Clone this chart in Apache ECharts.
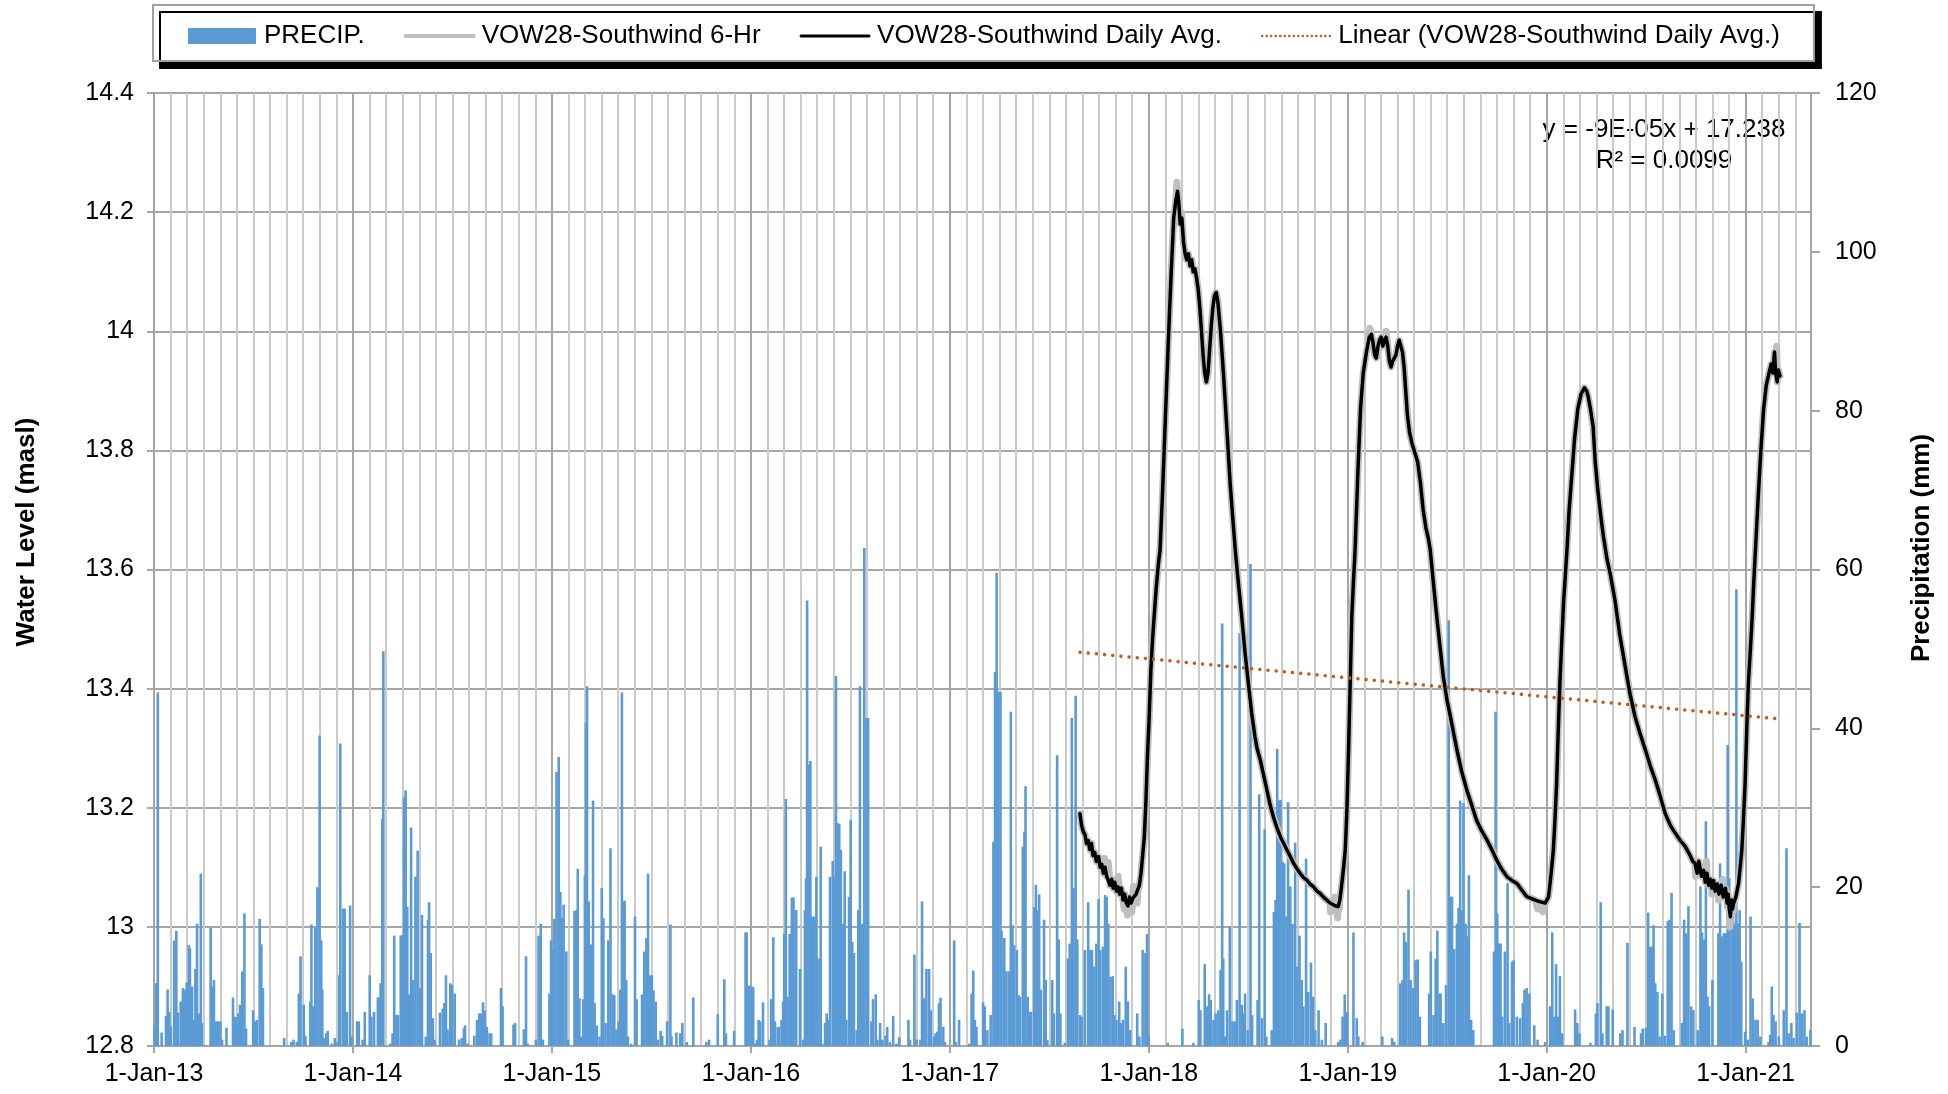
<!DOCTYPE html>
<html>
<head>
<meta charset="utf-8">
<title>VOW28-Southwind Water Level and Precipitation</title>
<script src="https://cdn.jsdelivr.net/npm/echarts@6/dist/echarts.min.js"></script>
<style>
  html, body { margin: 0; padding: 0; background: #ffffff; }
  #chart { width: 1948px; height: 1094px; }
</style>
</head>
<body>
<div id="chart"></div>
<script>
// ---------------------------------------------------------------------------
// Data. Daily precipitation (mm) per year as [day of year, mm].
// ---------------------------------------------------------------------------
const precip2013 = [[2,2.6],[5,7.9],[8,44.5],[15,1.7],[23,3.8],[26,7.1],[29,4.3],[32,2.5],[38,13.3],[42,14.5],[45,4.2],[50,5.6],[54,7.3],[58,7.1],[61,8.0],[65,12.7],[67,12.3],[71,7.5],[74,3.3],[77,9.7],[80,15.4],[83,4.1],[87,21.7],[89,2.9],[105,14.9],[108,7.5],[111,8.3],[115,3.1],[119,3.1],[123,3.1],[126,0.8],[134,2.3],[146,6.1],[149,3.7],[152,3.6],[156,4.1],[159,5.2],[163,9.4],[167,16.7],[170,2.2],[183,4.5],[186,3.1],[190,3.3],[195,16.0],[198,12.8],[201,7.3],[240,1.0],[253,0.5],[257,0.8],[263,0.5],[267,6.6],[270,11.3],[276,5.2],[279,1.3],[288,5.6],[290,15.3],[293,5.0],[297,14.9],[301,20.0],[305,39.1],[308,13.3],[310,7.1],[313,1.0],[317,1.6],[320,1.9],[327,0.3],[333,1.0],[338,0.5],[341,8.9],[343,38.1],[348,17.3],[351,17.3],[355,4.3],[361,17.7],[364,1.2]];
const precip2014 = [[9,3.1],[12,3.1],[19,0.8],[23,4.3],[32,8.9],[35,3.7],[40,4.3],[47,6.1],[49,6.1],[52,7.9],[55,28.6],[57,49.7],[70,0.3],[74,1.6],[77,13.9],[81,3.9],[84,3.9],[89,13.9],[92,14.0],[95,31.3],[98,32.2],[101,17.5],[104,6.5],[108,27.5],[112,8.3],[116,21.3],[120,24.6],[124,7.3],[128,16.5],[135,1.2],[139,15.9],[141,18.1],[144,11.7],[148,3.5],[151,0.8],[161,4.2],[166,4.7],[169,5.4],[172,8.9],[175,2.1],[180,7.9],[183,7.7],[188,6.6],[196,0.8],[201,1.0],[205,2.2],[207,2.6],[212,0.3],[224,1.3],[229,3.3],[233,4.1],[236,4.1],[240,5.5],[243,4.5],[247,2.4],[252,1.6],[255,1.6],[273,7.3],[276,5.0],[296,2.7],[299,2.9],[315,2.1],[319,11.3],[322,0.3],[337,0.8],[342,13.9],[346,15.4],[350,0.8],[362,6.6],[365,13.3]];
const precip2015 = [[3,12.1],[6,16.0],[10,34.5],[14,36.4],[17,19.4],[20,16.1],[23,17.8],[28,11.9],[31,0.8],[43,17.0],[46,17.1],[49,22.3],[52,6.0],[55,1.2],[59,5.9],[62,21.5],[64,40.7],[66,45.3],[69,18.2],[73,12.8],[77,30.9],[80,5.4],[84,2.6],[89,1.2],[93,19.9],[96,16.1],[100,2.9],[105,13.3],[109,24.9],[113,6.5],[116,6.4],[120,2.1],[124,3.1],[127,7.1],[130,44.5],[133,18.2],[135,18.3],[138,8.3],[141,1.2],[147,0.3],[154,16.3],[157,5.9],[167,6.5],[171,11.9],[175,13.6],[178,21.7],[182,8.9],[185,8.9],[188,7.0],[192,5.6],[196,0.8],[201,1.9],[204,1.3],[213,3.1],[219,15.3],[221,1.2],[230,1.7],[237,1.6],[241,2.9],[249,0.5],[261,6.1],[285,0.5],[290,0.8],[306,4.0],[318,8.4],[321,1.6],[336,1.9],[357,14.3],[359,14.3],[363,7.6]];
const precip2016 = [[3,7.5],[6,7.4],[9,0.3],[13,0.8],[16,3.3],[19,3.1],[24,5.5],[36,0.8],[39,5.9],[43,13.7],[46,3.1],[51,2.4],[53,2.4],[58,3.3],[61,5.6],[63,14.1],[66,31.1],[69,6.2],[73,14.1],[77,18.7],[80,18.7],[84,17.1],[85,17.1],[92,9.7],[98,0.8],[101,17.1],[103,21.1],[105,56.1],[108,35.4],[111,35.9],[114,16.3],[118,16.3],[122,21.3],[126,11.0],[130,25.1],[133,0.3],[138,2.9],[141,4.1],[144,3.3],[147,21.3],[152,23.3],[155,21.3],[158,46.6],[160,28.1],[164,28.0],[167,24.7],[171,15.4],[174,22.0],[177,3.3],[182,18.8],[185,28.5],[188,13.1],[191,11.7],[196,2.0],[199,17.1],[202,45.3],[206,15.4],[210,62.7],[214,41.3],[217,41.3],[223,3.1],[226,5.9],[231,6.5],[234,0.8],[239,2.9],[243,0.8],[249,1.3],[252,2.4],[257,0.5],[263,3.8],[269,0.3],[274,1.1],[291,3.3],[294,0.8],[302,11.5],[306,0.8],[313,0.8],[316,18.2],[320,6.0],[324,9.7],[329,9.7],[332,4.5],[338,1.2],[341,1.6],[344,1.8],[347,5.4],[350,6.1],[355,2.4],[358,0.5]];
const precip2017 = [[9,13.3],[12,0.5],[18,3.3],[37,0.3],[41,6.6],[44,9.5],[47,3.3],[50,2.4],[62,5.5],[65,5.0],[70,2.0],[76,3.9],[81,25.7],[84,47.1],[87,59.6],[90,44.6],[94,44.6],[96,14.5],[101,13.6],[105,9.4],[110,9.4],[113,42.1],[116,15.2],[119,12.7],[124,12.1],[127,6.4],[130,6.2],[135,25.1],[138,27.0],[140,32.7],[144,6.2],[147,4.3],[150,4.3],[156,17.5],[159,20.3],[162,17.1],[165,19.1],[168,7.1],[174,15.9],[177,8.3],[180,0.8],[189,8.3],[192,4.1],[198,36.6],[201,13.4],[204,4.1],[212,0.4],[218,11.0],[221,12.9],[225,41.3],[228,19.9],[232,44.1],[235,13.4],[240,3.9],[243,3.7],[249,12.1],[255,18.1],[259,12.1],[262,12.1],[265,10.0],[270,12.9],[274,18.5],[277,12.1],[282,12.5],[286,19.0],[289,18.8],[292,15.4],[296,8.7],[300,8.8],[303,3.9],[307,3.3],[312,5.6],[315,2.9],[319,3.3],[324,10.0],[328,5.6],[332,2.0],[345,4.1],[349,1.2],[355,12.1],[360,11.7],[363,14.1]];
const precip2018 = [[1,1.4],[36,0.4],[63,2.2],[83,0.4],[93,5.8],[96,4.5],[104,10.3],[108,5.0],[112,6.5],[115,5.8],[120,3.3],[124,4.1],[129,4.5],[133,9.6],[136,53.2],[138,11.0],[141,1.2],[145,4.5],[150,15.1],[155,3.1],[159,3.1],[163,5.8],[168,52.0],[172,5.2],[176,4.1],[178,6.6],[183,2.0],[188,60.7],[191,3.9],[201,5.8],[204,31.7],[209,3.5],[214,27.3],[217,1.2],[227,2.0],[231,16.9],[234,18.4],[237,37.4],[240,30.9],[243,31.0],[247,23.2],[250,23.0],[254,16.3],[257,30.7],[261,20.1],[265,15.4],[270,25.6],[274,10.0],[278,13.9],[282,8.3],[285,5.0],[290,23.6],[294,6.8],[299,10.5],[303,6.2],[307,2.0],[313,4.5],[319,0.8],[326,2.9],[349,0.5],[353,0.8],[357,3.7],[361,6.5],[365,4.3]];
const precip2019 = [[12,14.3],[18,3.5],[21,1.2],[29,0.5],[65,1.2],[83,1.0],[87,0.5],[98,7.9],[102,8.3],[105,14.3],[108,13.1],[113,19.7],[117,8.3],[122,7.3],[126,10.8],[130,10.9],[134,3.7],[151,6.6],[154,11.9],[159,3.9],[163,11.0],[166,14.5],[170,6.6],[172,6.6],[177,2.9],[182,7.7],[187,53.6],[190,18.8],[193,18.8],[197,12.2],[202,15.4],[205,17.4],[208,30.9],[211,17.1],[214,30.6],[218,15.4],[221,13.8],[224,21.5],[228,3.3],[232,2.0],[270,11.9],[273,42.1],[276,16.7],[279,12.9],[282,12.9],[285,3.7],[290,11.9],[295,20.5],[298,2.9],[303,10.6],[306,10.8],[312,3.7],[318,3.5],[323,5.4],[326,7.1],[330,7.3],[335,6.6],[344,2.6],[350,0.8],[364,0.5]];
const precip2020 = [[8,5.0],[12,14.3],[16,3.7],[19,10.3],[23,3.7],[26,8.8],[30,1.6],[54,4.6],[58,2.9],[62,1.6],[82,0.4],[92,4.1],[95,5.4],[101,18.1],[104,1.6],[112,5.0],[115,5.0],[123,4.6],[137,1.6],[141,2.0],[150,13.0],[163,2.4],[175,1.6],[178,2.2],[184,2.3],[188,16.8],[192,12.5],[195,12.5],[198,15.2],[201,7.9],[205,6.8],[209,1.2],[214,6.6],[219,1.3],[224,15.7],[227,15.9],[231,19.3],[235,2.0],[250,2.9],[254,15.9],[258,14.2],[262,17.6],[267,5.0],[271,4.5],[279,2.0],[284,20.1],[287,14.3],[290,13.4],[294,28.3],[297,6.2],[300,5.0],[306,8.3],[317,14.2],[320,23.0],[323,13.8],[327,14.2],[331,14.2],[334,37.9],[337,21.1],[341,16.3],[344,18.4],[348,15.4],[350,57.5],[353,15.4],[356,17.1],[359,10.6],[366,1.8]];
const precip2021 = [[5,0.8],[10,16.3],[14,6.0],[19,3.3],[23,3.3],[28,1.2],[43,0.5],[46,1.4],[49,7.5],[52,3.9],[56,3.1],[62,1.2],[71,4.5],[76,24.9],[80,1.6],[85,2.9],[89,1.0],[95,4.2],[100,15.5],[104,4.1],[109,4.5],[113,1.2],[120,2.0]];

// Daily average water level (masl) per year as [day of year, level].
const level2017 = [[240,13.19],[243,13.17],[246,13.16],[249,13.155],[252,13.14],[255,13.145],[258,13.13],[261,13.14],[264,13.12],[267,13.125],[270,13.11],[274,13.118],[277,13.10],[280,13.105],[283,13.09],[286,13.10],[289,13.085],[292,13.087],[295,13.07],[298,13.08],[301,13.065],[304,13.075],[307,13.06],[310,13.067],[313,13.055],[316,13.065],[319,13.045],[322,13.055],[325,13.04],[328,13.035],[331,13.05],[334,13.04],[337,13.048],[340,13.045],[343,13.055],[346,13.058],[349,13.07],[352,13.09],[355,13.12],[358,13.15],[361,13.21],[364,13.29]];
const level2018 = [[2,13.353],[5,13.43],[8,13.48],[11,13.52],[15,13.57],[19,13.61],[22,13.633],[27,13.74],[32,13.86],[37,13.98],[42,14.09],[47,14.19],[51,14.22],[54,14.235],[56,14.22],[59,14.18],[62,14.19],[65,14.15],[68,14.13],[71,14.12],[74,14.13],[77,14.11],[80,14.12],[83,14.10],[86,14.105],[89,14.09],[92,14.07],[95,14.04],[98,14.00],[101,13.96],[104,13.93],[107,13.915],[110,13.93],[113,13.97],[116,14.01],[119,14.04],[122,14.06],[125,14.065],[128,14.05],[133,14.00],[139,13.92],[145,13.83],[151,13.74],[156,13.68],[160,13.633],[166,13.575],[172,13.52],[178,13.46],[184,13.41],[190,13.36],[196,13.32],[200,13.30],[206,13.28],[212,13.255],[218,13.23],[224,13.205],[230,13.185],[236,13.168],[243,13.151],[249,13.14],[255,13.129],[261,13.118],[267,13.107],[273,13.098],[279,13.09],[285,13.083],[291,13.079],[297,13.072],[304,13.067],[310,13.06],[316,13.056],[322,13.05],[328,13.045],[334,13.04],[340,13.037],[345,13.035],[349,13.034],[352,13.045],[355,13.067],[359,13.10],[362,13.129],[365,13.196]];
const level2019 = [[3,13.297],[6,13.409],[9,13.521],[12,13.58],[15,13.633],[20,13.76],[25,13.87],[30,13.93],[36,13.966],[41,13.99],[45,13.995],[48,13.98],[51,13.96],[54,13.955],[57,13.975],[60,13.985],[63,13.99],[66,13.975],[69,13.985],[72,13.99],[75,13.975],[78,13.95],[81,13.94],[84,13.95],[87,13.955],[90,13.96],[93,13.975],[96,13.985],[99,13.975],[102,13.965],[105,13.94],[108,13.90],[111,13.86],[115,13.83],[120,13.81],[125,13.795],[130,13.78],[135,13.745],[140,13.70],[145,13.67],[150,13.65],[153,13.633],[159,13.575],[165,13.521],[171,13.47],[177,13.42],[184,13.38],[190,13.353],[196,13.325],[202,13.297],[211,13.26],[220,13.23],[229,13.205],[238,13.179],[247,13.162],[257,13.146],[266,13.13],[275,13.112],[284,13.097],[294,13.084],[303,13.078],[312,13.073],[321,13.062],[330,13.051],[338,13.048],[346,13.045],[355,13.042],[364,13.04]];
const level2020 = [[5,13.05],[8,13.073],[11,13.10],[14,13.129],[17,13.18],[20,13.241],[23,13.33],[26,13.409],[30,13.49],[33,13.549],[36,13.59],[39,13.633],[43,13.70],[48,13.76],[53,13.82],[59,13.87],[65,13.895],[71,13.905],[75,13.90],[78,13.89],[82,13.87],[87,13.84],[91,13.78],[96,13.73],[101,13.69],[106,13.655],[112,13.62],[119,13.59],[127,13.549],[136,13.49],[146,13.437],[155,13.39],[164,13.353],[173,13.325],[183,13.297],[192,13.27],[201,13.247],[210,13.22],[219,13.191],[229,13.17],[238,13.157],[247,13.145],[256,13.135],[265,13.12],[270,13.11],[274,13.107],[278,13.09],[281,13.11],[286,13.085],[290,13.095],[293,13.075],[296,13.09],[299,13.07],[302,13.08],[305,13.065],[308,13.078],[311,13.06],[315,13.072],[318,13.055],[322,13.07],[326,13.05],[330,13.065],[333,13.04],[335,13.055],[337,13.03],[339,13.017],[341,13.045],[343,13.03],[345,13.04],[349,13.05],[354,13.073],[357,13.10],[360,13.129],[363,13.18],[366,13.241]];
const level2021 = [[3,13.33],[6,13.409],[10,13.47],[13,13.521],[16,13.58],[19,13.633],[24,13.72],[29,13.80],[34,13.87],[39,13.91],[44,13.93],[48,13.945],[51,13.93],[54,13.965],[56,13.93],[59,13.915],[61,13.935],[64,13.925]];

// Extra 6-hourly readings that stand out from the daily average.
const sixHrExtremes2017 = [[285,13.115],[292,13.108],[310,13.085],[321,13.03],[327,13.02],[335,13.025],[338,13.068],[345,13.04]];
const sixHrExtremes2018 = [[53,14.25],[61,14.2],[335,13.025],[343,13.05],[348,13.015],[351,13.03]];
const sixHrExtremes2019 = [[42,14.005],[72,14.0],[350,13.03],[360,13.025],[363,13.03]];
const sixHrExtremes2020 = [[275,13.085],[295,13.11],[305,13.055],[317,13.045],[325,13.08],[333,13.035],[338,13.0],[344,13.025]];
const sixHrExtremes2021 = [[58,13.975]];

// Linear trend of the daily average, [year, day of year, level] at both ends.
const trendStart = [2017, 240, 13.461];
const trendEnd = [2021, 64, 13.349];

// Axis ranges and labels.
const axisStart = [2013, 1];
const axisEnd = [2021, 121];
const yearTickLabels = ['1-Jan-13','1-Jan-14','1-Jan-15','1-Jan-16','1-Jan-17','1-Jan-18','1-Jan-19','1-Jan-20','1-Jan-21'];
const levelAxis = { min: 12.8, max: 14.4, step: 0.2 };
const precipAxis = { min: 0, max: 120, step: 20 };
const equationLines = ['y = -9E-05x + 17.238', 'R\u00B2 = 0.0099'];

// ---------------------------------------------------------------------------
// Helpers: convert (year, day of year) into days since 1 Jan 2013.
// ---------------------------------------------------------------------------
const ORIGIN = Date.UTC(axisStart[0], 0, axisStart[1]);
function toDay(year, doy) {
  return Math.round((Date.UTC(year, 0, 1) - ORIGIN) / 864e5) + doy - 1;
}
function yearSeries(byYear) {
  const out = [];
  Object.keys(byYear).forEach(function (y) {
    byYear[y].forEach(function (p) { out.push([toDay(+y, p[0]), p[1]]); });
  });
  return out.sort(function (a, b) { return a[0] - b[0]; });
}

const precipData = yearSeries({2013: precip2013, 2014: precip2014, 2015: precip2015, 2016: precip2016, 2017: precip2017, 2018: precip2018, 2019: precip2019, 2020: precip2020, 2021: precip2021});
const dailyData = yearSeries({2017: level2017, 2018: level2018, 2019: level2019, 2020: level2020, 2021: level2021});
const sixHrData = yearSeries({
  2017: level2017.concat(sixHrExtremes2017),
  2018: level2018.concat(sixHrExtremes2018),
  2019: level2019.concat(sixHrExtremes2019),
  2020: level2020.concat(sixHrExtremes2020),
  2021: level2021.concat(sixHrExtremes2021)
});
const trendData = [[toDay(trendStart[0], trendStart[1]), trendStart[2]], [toDay(trendEnd[0], trendEnd[1]), trendEnd[2]]];

const MAX_DAY = toDay(axisEnd[0], axisEnd[1]);
const YEAR = 365.25;
const MONTH = YEAR / 12;

const FONT = '"Liberation Sans", Arial, Helvetica, sans-serif';
const GRID_MAJOR = '#a6a6a6';
const GRID_MINOR = '#cbcbcb';

const chart = echarts.init(document.getElementById('chart'), null, { renderer: 'canvas' });

chart.setOption({
  animation: false,
  backgroundColor: '#ffffff',
  textStyle: { fontFamily: FONT },
  grid: { left: 154, right: 137, top: 93, bottom: 48, containLabel: false },
  legend: {
    left: 153,
    top: 5,
    padding: [16, 34, 10, 35],
    itemGap: 39,
    itemWidth: 68,
    itemHeight: 16,
    backgroundColor: '#ffffff',
    borderColor: '#a0a0a0',
    borderWidth: 2,
    shadowColor: '#000000',
    shadowBlur: 0,
    shadowOffsetX: 7,
    shadowOffsetY: 7,
    selectedMode: false,
    textStyle: { fontFamily: FONT, fontSize: 26, color: '#000000', lineHeight: 30, padding: [0, 0, 0, 3] },
    data: [
      { name: 'PRECIP.', icon: 'rect', itemStyle: { color: '#5B9BD5' } },
      { name: 'VOW28-Southwind 6-Hr', itemStyle: { opacity: 0 }, lineStyle: { color: '#BFBFBF', width: 4 } },
      { name: 'VOW28-Southwind Daily Avg.', itemStyle: { opacity: 0 }, lineStyle: { color: '#000000', width: 3 } },
      { name: 'Linear (VOW28-Southwind Daily Avg.)', itemStyle: { opacity: 0 }, lineStyle: { color: '#C55A11', width: 2.5, type: [0.01, 4.5], cap: 'round' } }
    ]
  },
  xAxis: [
    {
      // monthly gridlines
      type: 'value', min: 0, max: MAX_DAY, interval: MONTH, position: 'bottom',
      axisLine: { show: false, onZero: false }, axisTick: { show: false }, axisLabel: { show: false },
      splitLine: { show: true, lineStyle: { color: GRID_MINOR, width: 2 } }
    },
    {
      // yearly ticks and labels
      type: 'value', min: 0, max: MAX_DAY, interval: YEAR, position: 'bottom',
      axisLine: { show: true, onZero: false, lineStyle: { color: GRID_MAJOR, width: 2 } },
      axisTick: { show: true, length: 7, lineStyle: { color: GRID_MAJOR, width: 2 } },
      axisLabel: {
        show: true, margin: 16, fontSize: 25, color: '#000000', fontFamily: FONT,
        showMaxLabel: false,
        formatter: function (v) {
          const k = Math.round(v / YEAR);
          return Math.abs(v - k * YEAR) < 0.01 && yearTickLabels[k] ? yearTickLabels[k] : '';
        }
      },
      splitLine: { show: true, lineStyle: { color: GRID_MAJOR, width: 2 } }
    }
  ],
  yAxis: [
    {
      type: 'value', position: 'left',
      min: levelAxis.min, max: levelAxis.max, interval: levelAxis.step,
      axisLine: { show: true, onZero: false, lineStyle: { color: GRID_MAJOR, width: 2 } },
      axisTick: { show: true, length: 7, lineStyle: { color: GRID_MAJOR, width: 2 } },
      axisLabel: { margin: 20, fontSize: 25, color: '#000000', fontFamily: FONT },
      splitLine: { show: true, lineStyle: { color: GRID_MAJOR, width: 2 } }
    },
    {
      type: 'value', position: 'right',
      min: precipAxis.min, max: precipAxis.max, interval: precipAxis.step,
      axisLine: { show: true, onZero: false, lineStyle: { color: GRID_MAJOR, width: 2 } },
      axisTick: { show: true, length: 9, lineStyle: { color: GRID_MAJOR, width: 2 } },
      axisLabel: { margin: 24, fontSize: 25, color: '#000000', fontFamily: FONT },
      splitLine: { show: false }
    }
  ],
  series: [
    {
      name: 'PRECIP.', type: 'bar', xAxisIndex: 1, yAxisIndex: 1,
      data: precipData, barWidth: 2.6,
      itemStyle: { color: '#5B9BD5' }, z: 2, silent: true
    },
    {
      name: 'VOW28-Southwind 6-Hr', type: 'line', xAxisIndex: 1, yAxisIndex: 0,
      data: sixHrData, symbol: 'none', showSymbol: false,
      lineStyle: { color: '#BFBFBF', width: 7, join: 'round', cap: 'round' },
      itemStyle: { color: '#BFBFBF' }, z: 3, silent: true
    },
    {
      name: 'VOW28-Southwind Daily Avg.', type: 'line', xAxisIndex: 1, yAxisIndex: 0,
      data: dailyData, symbol: 'none', showSymbol: false,
      lineStyle: { color: '#000000', width: 3.5, join: 'round', cap: 'round' },
      itemStyle: { color: '#000000' }, z: 4, silent: true
    },
    {
      name: 'Linear (VOW28-Southwind Daily Avg.)', type: 'line', xAxisIndex: 1, yAxisIndex: 0,
      data: trendData, symbol: 'none', showSymbol: false,
      lineStyle: { color: '#C55A11', width: 3.5, type: [0.01, 8.2], cap: 'round' },
      itemStyle: { color: '#C55A11' }, z: 5, silent: true
    }
  ],
  graphic: [
    { type: 'text', x: 1664, y: 130, silent: true,
      style: { text: equationLines[0], fill: '#000000', fontFamily: FONT, fontSize: 26, align: 'center', verticalAlign: 'middle' } },
    { type: 'text', x: 1664, y: 161, silent: true,
      style: { text: equationLines[1], fill: '#000000', fontFamily: FONT, fontSize: 26, align: 'center', verticalAlign: 'middle' } },
    { type: 'text', x: 27, y: 532, rotation: Math.PI / 2, silent: true,
      style: { text: 'Water Level (masl)', fill: '#000000', fontFamily: FONT, fontSize: 26, fontWeight: 'bold', align: 'center', verticalAlign: 'middle' } },
    { type: 'text', x: 1922, y: 548, rotation: Math.PI / 2, silent: true,
      style: { text: 'Precipitation (mm)', fill: '#000000', fontFamily: FONT, fontSize: 26, fontWeight: 'bold', align: 'center', verticalAlign: 'middle' } }
  ]
});
</script>
</body>
</html>
